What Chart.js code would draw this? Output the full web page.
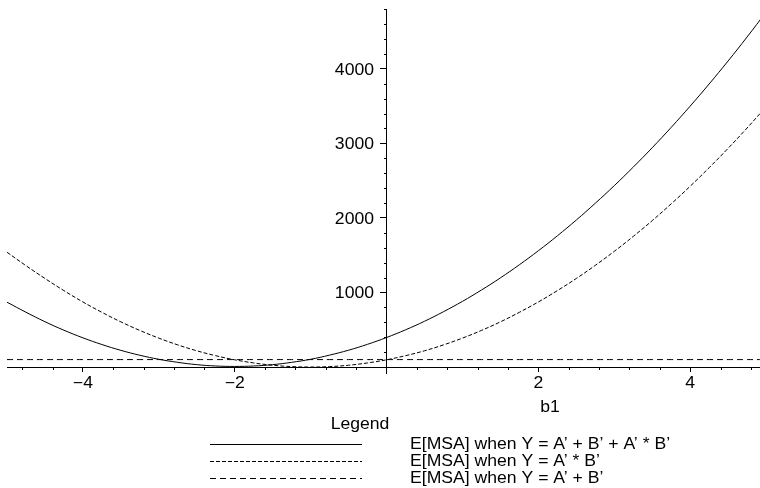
<!DOCTYPE html>
<html><head><meta charset="utf-8">
<script src="https://cdn.jsdelivr.net/npm/chart.js@4/dist/chart.umd.min.js"></script>
<style>html,body{margin:0;padding:0;background:#fff;overflow:hidden}#wrap{width:760px;height:488px}</style>
</head><body><div id="wrap"><canvas id="c" width="760" height="488"></canvas></div>
<script>
// ---- data ----
const b1Values = [-5,-4.75,-4.5,-4.25,-4,-3.75,-3.5,-3.25,-3,-2.75,-2.5,-2.25,-2,-1.75,-1.5,-1.25,-1,-0.75,-0.5,-0.25,0,0.25,0.5,0.75,1,1.25,1.5,1.75,2,2.25,2.5,2.75,3,3.25,3.5,3.75,4,4.25,4.5,4.75,5];
const msaFull = [870,735,608,494,392,302,224,158,104,63,32,14,8,14,32,63,104,160,226,305,396,499,614,742,881,1033,1196,1372,1560,1760,1972,2197,2433,2682,2942,3215,3500,3797,4106,4428,4761];
const msaInteraction = [1540,1360,1188,1025,873,734,606,491,388,297,218,152,97,55,24,6,0,6,24,55,97,152,218,297,388,491,606,734,873,1025,1188,1364,1552,1752,1964,2189,2425,2674,2934,3207,3492];
const msaAdditive = [100,100,100,100,100,100,100,100,100,100,100,100,100,100,100,100,100,100,100,100,100,100,100,100,100,100,100,100,100,100,100,100,100,100,100,100,100,100,100,100,100];
const seriesNames = ["E[MSA] when Y = A\u2019 + B\u2019 + A\u2019 * B\u2019", "E[MSA] when Y = A\u2019 * B\u2019", "E[MSA] when Y = A\u2019 + B\u2019"];
const xTickLabels = [-4, -2, 2, 4];
const yTickLabels = [1000, 2000, 3000, 4000];
const xAxisTitle = "b1";
const legendTitle = "Legend";

const FONT = "'Liberation Sans', Arial, Helvetica, sans-serif";
const SX = 1.1; // horizontal stretch of the reference lettering
const fmt = v => (v < 0 ? "\u2212" + Math.abs(v) : String(v));
const pts = arr => b1Values.map((x, i) => ({ x: x, y: arr[i] }));

const styles = [
  { borderDash: [] },
  { borderDash: [4, 2] },
  { borderDash: [6, 4] }
];
const seriesData = [msaFull, msaInteraction, msaAdditive];

function txt(ctx, s, x, y, align) {
  ctx.save();
  ctx.translate(x, y);
  ctx.scale(SX, 1);
  ctx.textAlign = align;
  ctx.textBaseline = 'alphabetic';
  ctx.fillText(s, 0, 0);
  ctx.restore();
}

const extras = {
  id: 'extras',
  afterDraw(chart) {
    const ctx = chart.ctx;
    const xs = chart.scales.x, ys = chart.scales.y;
    const ax = Math.round(xs.getPixelForValue(0));
    const ay = Math.round(ys.getPixelForValue(0));
    ctx.save();
    ctx.strokeStyle = '#000';
    ctx.lineWidth = 1;
    // minor ticks on x (every 0.4)
    for (let k = -12; k <= 12; k++) {
      const v = k * 0.4;
      if (k === 0 || k % 5 === 0) continue;
      if (v < xs.min || v > xs.max) continue;
      const px = Math.round(xs.getPixelForValue(v)) + 0.5;
      ctx.beginPath(); ctx.moveTo(px, ay); ctx.lineTo(px, ay + 3); ctx.stroke();
    }
    // minor ticks on y (every 200)
    for (let k = 1; k <= 24; k++) {
      const v = k * 200;
      if (k % 5 === 0) continue;
      if (v > ys.max) continue;
      const py = Math.round(ys.getPixelForValue(v)) + 0.5;
      ctx.beginPath(); ctx.moveTo(ax - 3, py); ctx.lineTo(ax, py); ctx.stroke();
    }
    ctx.fillStyle = '#000';
    ctx.font = '16px ' + FONT;
    // tick labels
    xTickLabels.forEach(v => txt(ctx, fmt(v), xs.getPixelForValue(v), ay + 21, 'center'));
    yTickLabels.forEach(v => txt(ctx, fmt(v), ax - 13, ys.getPixelForValue(v) + 6, 'right'));
    // axis title
    txt(ctx, xAxisTitle, 550, 412, 'center');
    // legend
    txt(ctx, legendTitle, 360, 429, 'center');
    const lineY = [444, 461, 478];
    const textY = [449, 466, 483];
    chart.data.datasets.forEach((ds, i) => {
      const y = lineY[i] + 0.5;
      ctx.setLineDash(ds.borderDash || []);
      ctx.beginPath(); ctx.moveTo(210, y); ctx.lineTo(362, y); ctx.stroke();
      ctx.setLineDash([]);
      txt(ctx, ds.label, 410, textY[i], 'left');
    });
    ctx.restore();
  }
};

new Chart(document.getElementById('c'), {
  type: 'line',
  data: {
    datasets: seriesData.map((arr, i) => ({
      label: seriesNames[i],
      data: pts(arr),
      borderColor: '#000',
      borderWidth: 1,
      borderDash: styles[i].borderDash,
      pointRadius: 0,
      tension: 0.4,
      fill: false
    }))
  },
  options: {
    responsive: false,
    animation: false,
    devicePixelRatio: 1,
    layout: { padding: { left: 7, right: 0, top: 9, bottom: 115 } },
    plugins: { legend: { display: false }, tooltip: { enabled: false } },
    scales: {
      x: {
        type: 'linear',
        min: -5, max: 4.92,
        position: { y: 0 },
        afterBuildTicks: s => { s.ticks = xTickLabels.map(v => ({ value: v })); },
        ticks: { display: false, callback: v => fmt(v), autoSkip: false },
        grid: { display: true, drawOnChartArea: false, drawTicks: true, tickLength: 4, color: '#000' },
        border: { display: true, color: '#000', width: 1 }
      },
      y: {
        type: 'linear',
        min: -80, max: 4803,
        position: { x: 0 },
        afterBuildTicks: s => { s.ticks = yTickLabels.map(v => ({ value: v })); },
        ticks: { display: false, callback: v => fmt(v), autoSkip: false },
        grid: { display: true, drawOnChartArea: false, drawTicks: true, tickLength: 6, color: '#000' },
        border: { display: true, color: '#000', width: 1 }
      }
    }
  },
  plugins: [extras]
});
</script>
</body></html>
